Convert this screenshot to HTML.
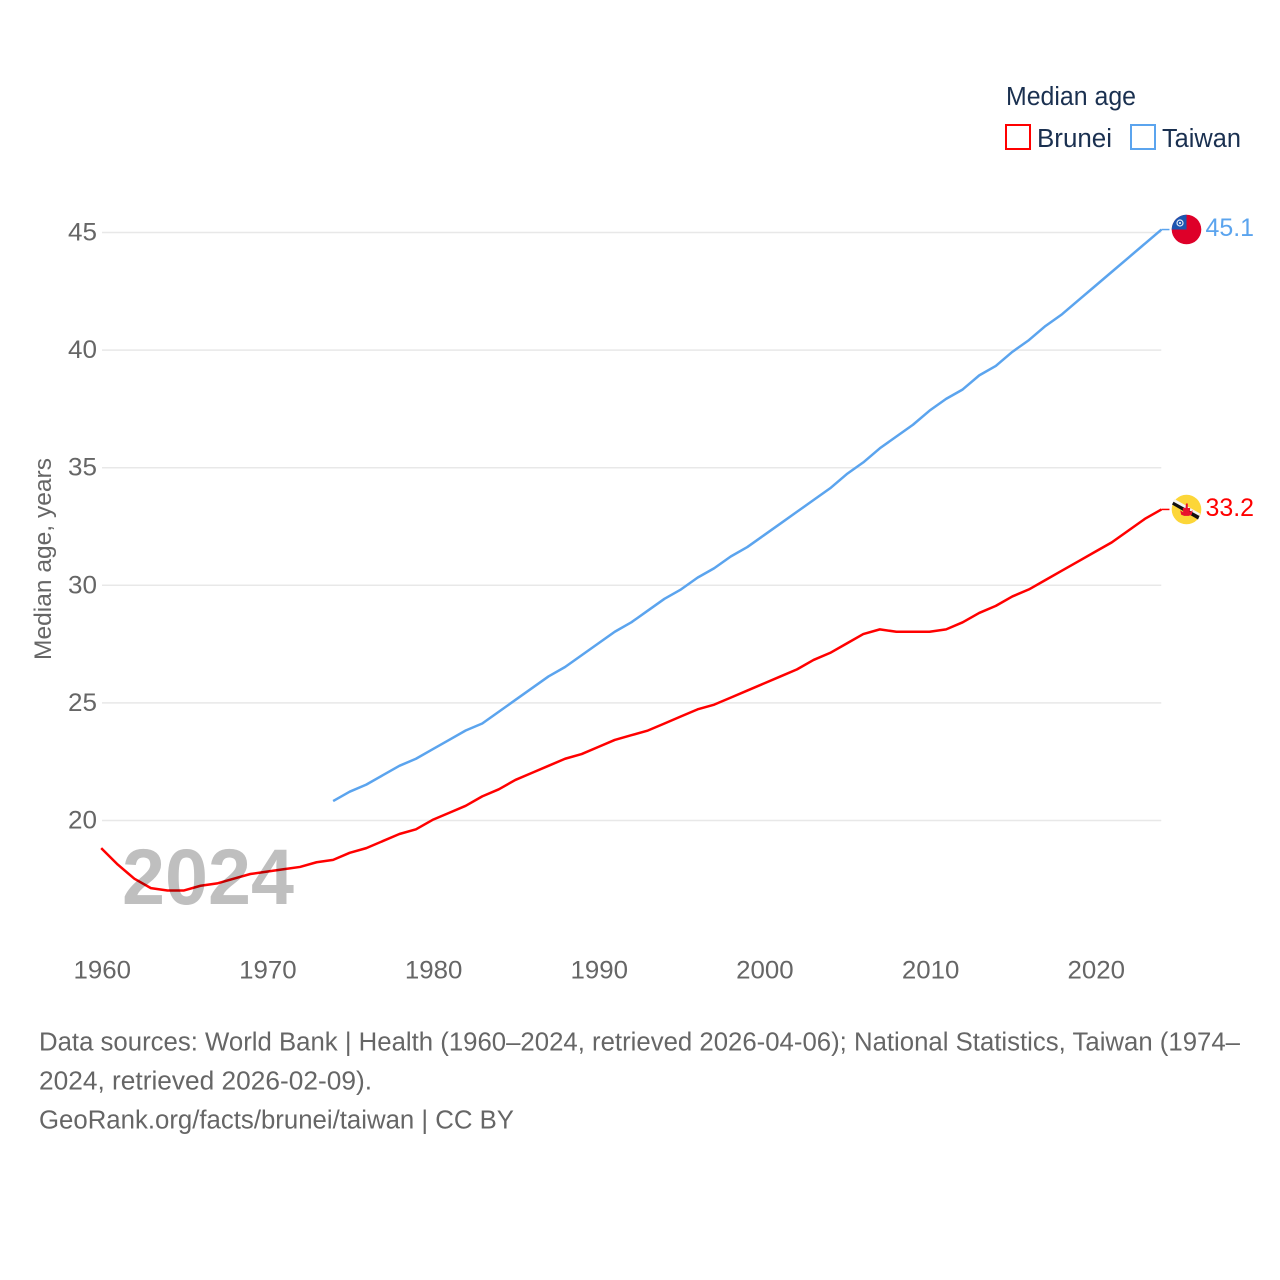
<!DOCTYPE html>
<html lang="en">
<head>
<meta charset="utf-8">
<title>Median age: Brunei and Taiwan</title>
<style>
  html, body { margin: 0; padding: 0; background: #fff; }
  svg { display: block; font-family: "Liberation Sans", sans-serif; }
</style>
</head>
<body>
<svg id="chart" xmlns="http://www.w3.org/2000/svg" width="1280" height="1280" viewBox="0 0 1280 1280">
  <rect x="0" y="0" width="1280" height="1280" fill="#ffffff"/>
  <g id="grid"></g>
  <g id="y-ticks"></g>
  <g id="x-ticks"></g>
  <text transform="translate(51 660) rotate(-90)" font-size="24.5" fill="#666666" textLength="202" lengthAdjust="spacingAndGlyphs">Median age, years</text>
  <g id="series" transform="translate(-0.8 -0.6)"></g>
  <text x="122" y="904" font-size="79" font-weight="700" fill="#bfbfbf" textLength="172" lengthAdjust="spacingAndGlyphs" style="mix-blend-mode:multiply">2024</text>

  <g>
    <text x="1006" y="105" font-size="25.5" fill="#1a3050" textLength="130" lengthAdjust="spacingAndGlyphs">Median age</text>
    <rect x="1006" y="125" width="24" height="24" fill="#ffffff" stroke="#ff0000" stroke-width="2"/>
    <text x="1037" y="147" font-size="25.5" fill="#1a3050" textLength="75" lengthAdjust="spacingAndGlyphs">Brunei</text>
    <rect x="1131" y="125" width="24" height="24" fill="#ffffff" stroke="#5ba4ee" stroke-width="2"/>
    <text x="1162" y="147" font-size="25.5" fill="#1a3050" textLength="79" lengthAdjust="spacingAndGlyphs">Taiwan</text>
  </g>

  <defs>
    <clipPath id="clip-tw"><circle cx="1186.5" cy="229.5" r="14.8"/></clipPath>
    <clipPath id="clip-bn"><circle cx="1186.5" cy="509.5" r="14.8"/></clipPath>
  </defs>

  <g clip-path="url(#clip-tw)">
    <rect x="1170" y="213" width="34" height="34" fill="#de0029"/>
    <rect x="1170" y="213" width="16.5" height="16.5" fill="#1c55b0"/>
    <circle cx="1180" cy="223" r="3" fill="none" stroke="#dfe8f6" stroke-width="1.2"/>
    <circle cx="1180" cy="223" r="1" fill="#ffffff"/>
  </g>
  <g clip-path="url(#clip-bn)">
    <rect x="1170" y="493" width="34" height="34" fill="#fcd638"/>
  </g>
  <g>
    <polygon points="1172.5,502 1174.5,499 1200,513.5 1199,518" fill="#f4f4f4"/>
    <polygon points="1172,504.5 1173.5,501.8 1199.5,516 1198,519.5" fill="#111111"/>
    <path d="M1186 503.5h1.8v4.5h2.4l-.5 4.2 3-2-1 4.5-3 1.2h-4.5l-3-1.2-1-4.5 3 2-.5-4.2h2.8z" fill="#e8112d"/>
  </g>

  <text x="1205.5" y="236" font-size="25" fill="#5ba4ee" textLength="48.5" lengthAdjust="spacingAndGlyphs">45.1</text>
  <text x="1205.5" y="516" font-size="25" fill="#ff0000" textLength="48.5" lengthAdjust="spacingAndGlyphs">33.2</text>

  <g font-size="25.5" fill="#666666">
    <text x="39" y="1050.5" textLength="1201" lengthAdjust="spacingAndGlyphs">Data sources: World Bank | Health (1960–2024, retrieved 2026-04-06); National Statistics, Taiwan (1974–</text>
    <text x="39" y="1089.5" textLength="333" lengthAdjust="spacingAndGlyphs">2024, retrieved 2026-02-09).</text>
    <text x="39" y="1128.5" textLength="475" lengthAdjust="spacingAndGlyphs">GeoRank.org/facts/brunei/taiwan | CC BY</text>
  </g>
</svg>

<script>
const xTickLabels = [1960, 1970, 1980, 1990, 2000, 2010, 2020];
const yTickLabels = [20, 25, 30, 35, 40, 45];
const bruneiStartYear = 1960;
const bruneiValues = [
  18.8, 18.1, 17.5, 17.1, 17.0, 17.0, 17.2, 17.3, 17.5, 17.7,
  17.8, 17.9, 18.0, 18.2, 18.3, 18.6, 18.8, 19.1, 19.4, 19.6,
  20.0, 20.3, 20.6, 21.0, 21.3, 21.7, 22.0, 22.3, 22.6, 22.8,
  23.1, 23.4, 23.6, 23.8, 24.1, 24.4, 24.7, 24.9, 25.2, 25.5,
  25.8, 26.1, 26.4, 26.8, 27.1, 27.5, 27.9, 28.1, 28.0, 28.0,
  28.0, 28.1, 28.4, 28.8, 29.1, 29.5, 29.8, 30.2, 30.6, 31.0,
  31.4, 31.8, 32.3, 32.8, 33.2
];
const taiwanStartYear = 1974;
const taiwanValues = [
  20.8, 21.2, 21.5, 21.9, 22.3, 22.6,
  23.0, 23.4, 23.8, 24.1, 24.6, 25.1, 25.6, 26.1, 26.5, 27.0,
  27.5, 28.0, 28.4, 28.9, 29.4, 29.8, 30.3, 30.7, 31.2, 31.6,
  32.1, 32.6, 33.1, 33.6, 34.1, 34.7, 35.2, 35.8, 36.3, 36.8,
  37.4, 37.9, 38.3, 38.9, 39.3, 39.9, 40.4, 41.0, 41.5, 42.1,
  42.7, 43.3, 43.9, 44.5, 45.1
];

const SVG_NS = 'http://www.w3.org/2000/svg';
function xScale(year) { return 102 + (year - 1960) * (1096 - 102) / 60; }
function yScale(value) { return 820.5 - (value - 20) * (820.5 - 232.5) / 25; }

const gridGroup = document.getElementById('grid');
const yTickGroup = document.getElementById('y-ticks');
const xTickGroup = document.getElementById('x-ticks');
const seriesGroup = document.getElementById('series');

yTickLabels.forEach(function (v) {
  const line = document.createElementNS(SVG_NS, 'line');
  
  
  line.setAttribute('x1', 102);
  line.setAttribute('x2', xScale(2024) - 1);
  line.setAttribute('y1', yScale(v));
  line.setAttribute('y2', yScale(v));
  line.setAttribute('stroke', '#e8e8e8');
  line.setAttribute('stroke-width', '1.5');
  gridGroup.appendChild(line);

  const label = document.createElementNS(SVG_NS, 'text');
  
  
  label.setAttribute('x', 97);
  label.setAttribute('y', yScale(v) + 8);
  label.setAttribute('text-anchor', 'end');
  label.setAttribute('font-size', '25');
  label.setAttribute('fill', '#666666');
  label.setAttribute('textLength', '29');
  label.setAttribute('lengthAdjust', 'spacingAndGlyphs');
  label.textContent = v;
  yTickGroup.appendChild(label);
});

xTickLabels.forEach(function (year) {
  const label = document.createElementNS(SVG_NS, 'text');
  
  
  label.setAttribute('x', xScale(year) - 28.5);
  label.setAttribute('y', 978.5);
  label.setAttribute('font-size', '25');
  label.setAttribute('fill', '#666666');
  label.setAttribute('textLength', '57.5');
  label.setAttribute('lengthAdjust', 'spacingAndGlyphs');
  label.textContent = year;
  xTickGroup.appendChild(label);
});

function drawSeries(values, startYear, color, seriesName) {
  const pts = values.map(function (v, i) {
    return xScale(startYear + i).toFixed(2) + ',' + yScale(v).toFixed(2);
  });
  const last = values[values.length - 1];
  const stub = document.createElementNS(SVG_NS, 'line');
  
  
  stub.setAttribute('x1', xScale(startYear + values.length - 1));
  stub.setAttribute('x2', xScale(startYear + values.length - 1) + 8);
  stub.setAttribute('y1', yScale(last));
  stub.setAttribute('y2', yScale(last));
  stub.setAttribute('stroke', color);
  stub.setAttribute('stroke-width', '1.5');
  seriesGroup.appendChild(stub);

  const line = document.createElementNS(SVG_NS, 'polyline');
  
  
  line.setAttribute('points', pts.join(' '));
  line.setAttribute('fill', 'none');
  line.setAttribute('stroke', color);
  line.setAttribute('stroke-width', '2.5');
  line.setAttribute('stroke-linejoin', 'round');
  seriesGroup.appendChild(line);
}

drawSeries(taiwanValues, taiwanStartYear, '#5ba4ee', 'taiwan');
drawSeries(bruneiValues, bruneiStartYear, '#ff0000', 'brunei');
</script>
</body>
</html>
